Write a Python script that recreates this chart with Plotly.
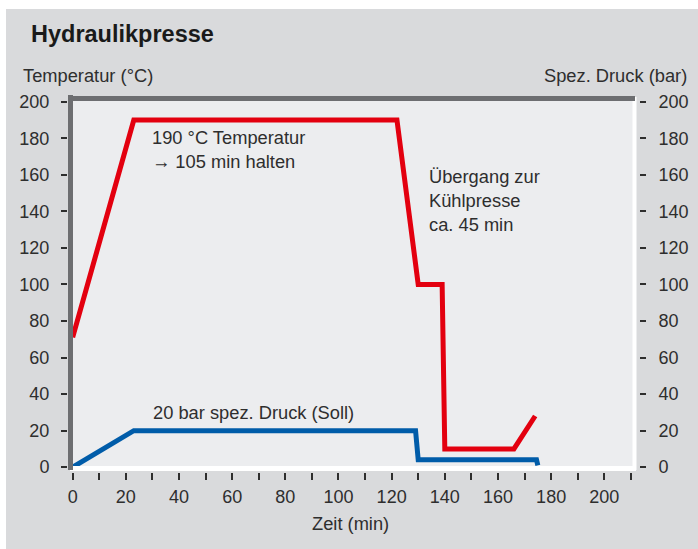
import plotly.graph_objects as go

# ---- data ----
temp_time = [0, 23, 122, 130, 139, 140, 166, 174]
temp_values = [71, 190, 190, 100, 100, 10, 10, 28]
druck_time = [0, 23, 129, 130, 174.5, 175]
druck_values = [0, 20, 20, 4, 4, 1]
x_ticks = [0, 20, 40, 60, 80, 100, 120, 140, 160, 180, 200]
y_ticks = [0, 20, 40, 60, 80, 100, 120, 140, 160, 180, 200]

W, H = 698, 549
FONT = "Liberation Sans"
TXT = "#2e2e2e"
RED = "#e3000f"
BLUE = "#005ca9"
FS = 18.3

# plot area in pixels
L, R, T, B = 70, 633, 99, 469

fig = go.Figure()
fig.add_trace(go.Scatter(x=temp_time, y=temp_values, mode="lines",
                         line=dict(color=RED, width=5), yaxis="y",
                         hoverinfo="skip", showlegend=False))
fig.add_trace(go.Scatter(x=druck_time, y=druck_values, mode="lines",
                         line=dict(color=BLUE, width=5), yaxis="y2",
                         hoverinfo="skip", showlegend=False))

xd = [L / W, R / W]
yd = [1 - B / H, 1 - T / H]

minor_vals = list(range(0, 211, 10))
fig.update_layout(
    width=W, height=H,
    margin=dict(l=0, r=0, t=0, b=0, pad=0, autoexpand=False),
    paper_bgcolor="white",
    plot_bgcolor="#ecedef",
    font=dict(family=FONT, color=TXT, size=16),
    xaxis=dict(domain=xd, range=[-1.0, 210.8], tickvals=minor_vals,
               ticktext=[str(v) if v % 20 == 0 and v <= 200 else "" for v in minor_vals],
               ticks="outside", ticklen=6.5, tickwidth=1.5, tickcolor=TXT,
               showgrid=False, zeroline=False, showline=False, automargin=False,
               anchor="free", position=1 - (B + 3) / H, ticklabelstandoff=2,
               tickfont=dict(size=18, family=FONT, color=TXT)),
    yaxis=dict(domain=yd, range=[-1, 201.5], tickvals=y_ticks,
               ticks="outside", ticklen=6, tickwidth=1.5, tickcolor=TXT,
               showgrid=False, zeroline=False, showline=False, automargin=False,
               anchor="free", position=(L - 3) / W, ticklabelstandoff=8,
               tickfont=dict(size=18, family=FONT, color=TXT)),
    yaxis2=dict(domain=yd, range=[-1, 201.5], tickvals=y_ticks, overlaying="y",
                side="right", ticks="outside", ticklen=6.5, tickwidth=1.5, tickcolor=TXT,
                showgrid=False, zeroline=False, showline=False, automargin=False,
                anchor="free", position=638.5 / W, ticklabelstandoff=9,
                tickfont=dict(size=18, family=FONT, color=TXT)),
)

shapes = [
    # grey panel
    dict(type="rect", xref="paper", yref="paper", x0=6 / W, x1=1, y0=0, y1=1 - 9 / H,
         fillcolor="#d9dadc", line=dict(width=0), layer="below"),
    # plot background
    dict(type="rect", xref="paper", yref="paper", x0=L / W, x1=R / W, y0=1 - B / H, y1=1 - T / H,
         fillcolor="#ecedef", line=dict(width=0), layer="below"),
    # white right and bottom borders
    dict(type="line", xref="paper", yref="paper", x0=(R + 1.5) / W, x1=(R + 1.5) / W,
         y0=1 - (B + 1) / H, y1=1 - (T - 2) / H, line=dict(color="white", width=4)),
    dict(type="line", xref="paper", yref="paper", x0=L / W, x1=(R + 3) / W,
         y0=1 - (B - 0.5) / H, y1=1 - (B - 0.5) / H, line=dict(color="white", width=5)),
    # dark left and top borders
    dict(type="line", xref="paper", yref="paper", x0=(L + 0.5) / W, x1=(L + 0.5) / W,
         y0=1 - (B + 1) / H, y1=1 - (T - 4) / H, line=dict(color="#6d6e71", width=5)),
    dict(type="line", xref="paper", yref="paper", x0=(L - 2) / W, x1=(R + 2) / W,
         y0=1 - (T - 0.5) / H, y1=1 - (T - 0.5) / H, line=dict(color="#6d6e71", width=5)),
]
fig.update_layout(shapes=shapes)

ann = [
    dict(text="<b>Hydraulikpresse</b>", x=29 / W, y=1 - 34 / H, xref="paper", yref="paper",
         xanchor="left", yanchor="middle", showarrow=False, font=dict(size=23.5, family=FONT, color="#1a1a1a")),
    dict(text="Temperatur (°C)", x=21 / W, y=1 - 75 / H, xref="paper", yref="paper",
         xanchor="left", yanchor="middle", showarrow=False, font=dict(size=FS, family=FONT, color=TXT)),
    dict(text="Spez. Druck (bar)", x=689 / W, y=1 - 75 / H, xref="paper", yref="paper",
         xanchor="right", yanchor="middle", showarrow=False, font=dict(size=FS, family=FONT, color=TXT)),
    dict(text="Zeit (min)", x=350 / W, y=1 - 523 / H, xref="paper", yref="paper",
         xanchor="center", yanchor="middle", showarrow=False, font=dict(size=FS, family=FONT, color=TXT)),
    dict(text="190 °C Temperatur<br>→ 105 min halten", x=29, y=174, xref="x", yref="y",
         xanchor="left", yanchor="middle", align="left", showarrow=False,
         font=dict(size=FS, family=FONT, color=TXT)),
    dict(text="Übergang zur<br>Kühlpresse<br>ca. 45 min", x=133.3, y=146, xref="x", yref="y",
         xanchor="left", yanchor="middle", align="left", showarrow=False,
         font=dict(size=FS, family=FONT, color=TXT)),
    dict(text="20 bar spez. Druck (Soll)", x=29.5, y=29.7, xref="x", yref="y",
         xanchor="left", yanchor="middle", align="left", showarrow=False,
         font=dict(size=FS, family=FONT, color=TXT)),
]
fig.update_layout(annotations=ann)

fig.write_html("out.html", config={"displayModeBar": False},
               post_script="document.body.style.margin='0';document.body.style.padding='0';")
